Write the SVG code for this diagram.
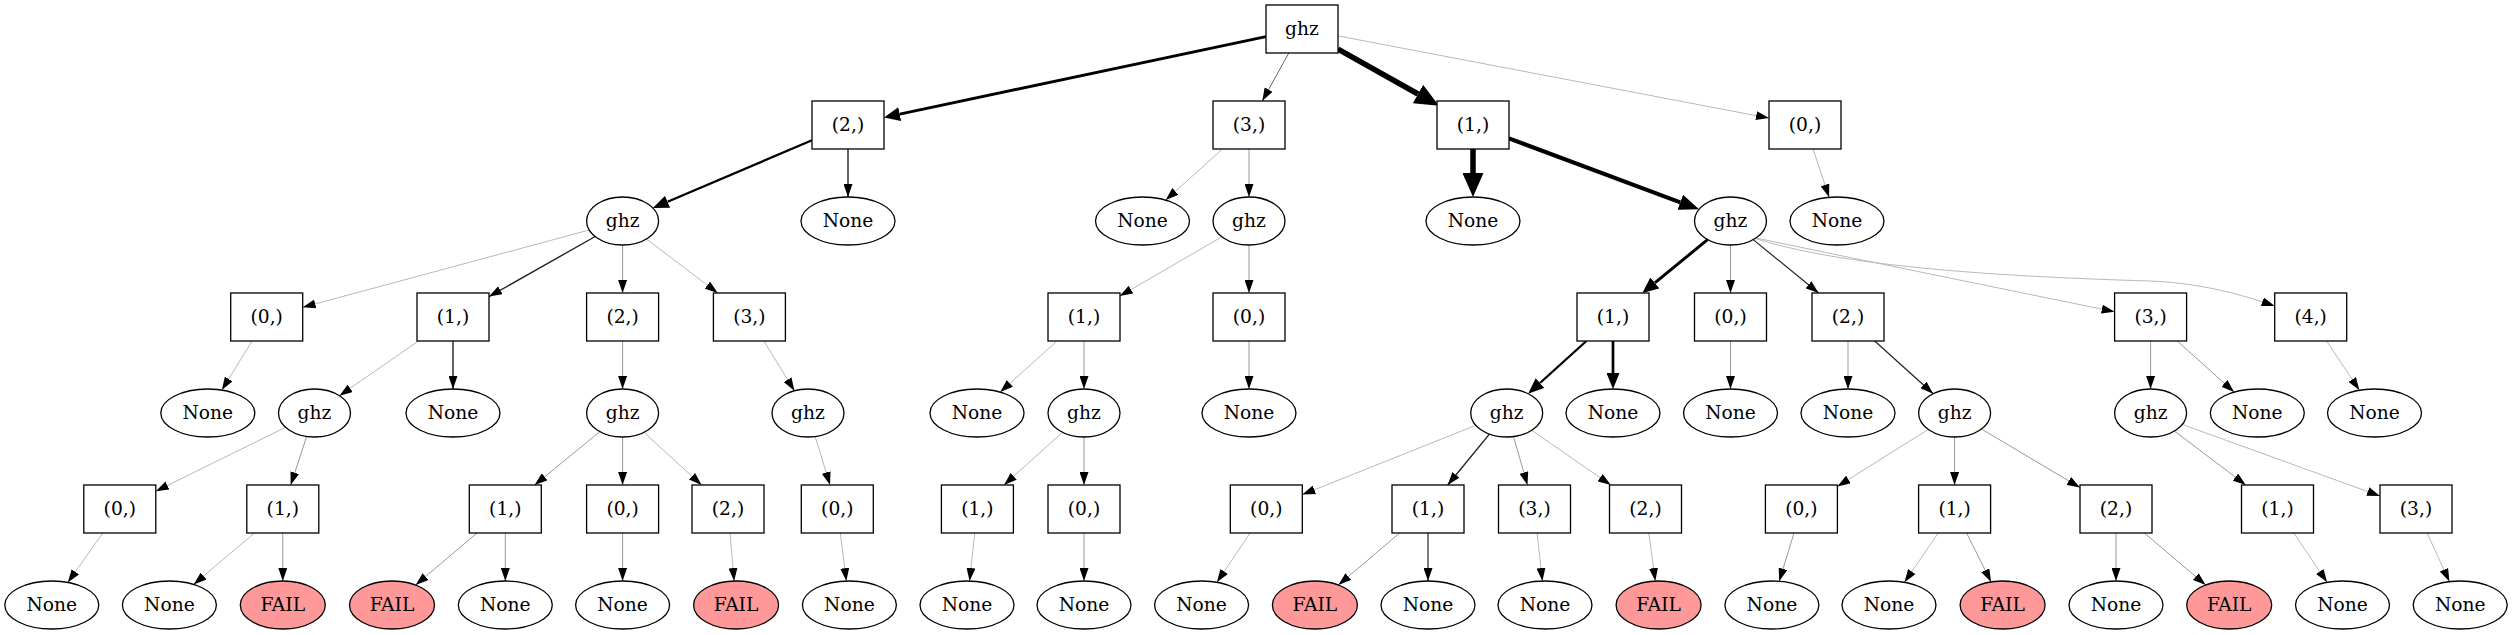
<svg xmlns="http://www.w3.org/2000/svg" width="2512" height="635" viewBox="0 0 2512 635" font-family="'DejaVu Serif', 'Liberation Serif', serif" font-size="18.67">
<style>
.nd rect,.nd ellipse{fill:#fff;stroke:#000;stroke-width:1.3}
.nd ellipse.fail{fill:#ff9999}
text{font-family:'DejaVu Serif','Liberation Serif',serif;font-size:18.67px;text-anchor:middle;fill:#000}
#edges path{fill:none}
.lt{stroke:#b8b8b8;stroke-width:1;marker-end:url(#aT)}
.md{stroke:#999;stroke-width:1;marker-end:url(#aT)}
.dk{stroke:#666;stroke-width:1;marker-end:url(#aT)}
.bk{stroke:#222;stroke-width:1.4;marker-end:url(#aT)}
.w2{stroke:#000;stroke-width:2.3;marker-end:url(#aM)}
.w3{stroke:#000;stroke-width:3;marker-end:url(#aM3)}
.w4{stroke:#000;stroke-width:4;marker-end:url(#aB)}
.w6{stroke:#000;stroke-width:5.5;marker-end:url(#aH)}
</style>
<defs>
<marker id="aT" markerUnits="userSpaceOnUse" viewBox="0 0 13 9" markerWidth="13" markerHeight="9" refX="13" refY="4.5" orient="auto"><path d="M0,0L13,4.5L0,9z" fill="#000"/></marker>
<marker id="aM" markerUnits="userSpaceOnUse" viewBox="0 -6.5 16 13" markerWidth="16" markerHeight="13" refX="0" refY="0" orient="auto"><path d="M0,-6.5L16,0L0,6.5z" fill="#000"/></marker>
<marker id="aM3" markerUnits="userSpaceOnUse" viewBox="0 -7 16 14" markerWidth="16" markerHeight="14" refX="0" refY="0" orient="auto"><path d="M0,-7L16,0L0,7z" fill="#000"/></marker>
<marker id="aB" markerUnits="userSpaceOnUse" viewBox="0 -8 20 16" markerWidth="20" markerHeight="16" refX="0" refY="0" orient="auto"><path d="M0,-8L20,0L0,8z" fill="#000"/></marker>
<marker id="aH" markerUnits="userSpaceOnUse" viewBox="0 -10.5 24 21" markerWidth="24" markerHeight="21" refX="0" refY="0" orient="auto"><path d="M0,-10.5L24,0L0,10.5z" fill="#000"/></marker>
</defs>
<rect width="2512" height="635" fill="#fff"/>
<g id="edges">
<path class="w3" d="M1266,36.6L899.7,114.1"/>
<path class="dk" d="M1288.8,53L1262.3,101"/>
<path class="w6" d="M1338,49.2L1418,94"/>
<path class="lt" d="M1338,35.9L1769,118.1"/>
<path class="w2" d="M812,140.3L667.6,201.8"/>
<path class="bk" d="M848,149L848,197"/>
<path class="lt" d="M1222.4,149L1165.7,200.1"/>
<path class="md" d="M1249,149L1249,197"/>
<path class="w6" d="M1473,149L1473,173"/>
<path class="w4" d="M1509,138.4L1680.3,202.3"/>
<path class="lt" d="M1813,149L1829.1,197.3"/>
<path class="lt" d="M589.2,230L302.7,307.3"/>
<path class="bk" d="M595.2,236.5L489,296.6"/>
<path class="md" d="M622.6,245L622.6,293"/>
<path class="lt" d="M646.4,239L717.7,293"/>
<path class="lt" d="M1221.9,236.8L1119.7,296.1"/>
<path class="md" d="M1249,245L1249,293"/>
<path class="w3" d="M1707.6,239.6L1654.8,282.9"/>
<path class="md" d="M1730.5,245L1730.5,293"/>
<path class="bk" style="stroke-width:1.2" d="M1753.2,239.6L1818.6,293"/>
<path class="lt" d="M1756,238Q1900,268 2114.6,311.7"/>
<path class="lt" d="M1757,239C1840,265 1980,276 2150,281C2200,283 2240,294 2274.7,306"/>
<path class="lt" d="M252,341L221.9,390.1"/>
<path class="lt" d="M418.4,341L339.5,395.7"/>
<path class="bk" d="M453,341L453,389"/>
<path class="md" d="M622.6,341L622.6,389"/>
<path class="lt" d="M764,341L794.4,390.8"/>
<path class="lt" d="M1057,341L1000.2,392.1"/>
<path class="md" d="M1084,341L1084,389"/>
<path class="md" d="M1249,341L1249,389"/>
<path class="w2" d="M1586.4,341L1540,383"/>
<path class="w2" style="stroke-width:2.7" d="M1613,341L1613,373"/>
<path class="md" d="M1730.5,341L1730.5,389"/>
<path class="md" d="M1848,341L1848,389"/>
<path class="bk" style="stroke-width:1.2" d="M1874.7,341L1933.2,393.7"/>
<path class="md" d="M2150.6,341L2150.6,389"/>
<path class="md" d="M2177.3,341L2234.1,392.1"/>
<path class="lt" d="M2326.7,341L2359.4,390.3"/>
<path class="lt" d="M285.6,427.3L155.8,491.2"/>
<path class="md" d="M306.7,436.4L290.7,485"/>
<path class="md" d="M599.9,431.6L534.6,485"/>
<path class="md" d="M622.6,437L622.6,485"/>
<path class="lt" d="M643.9,432.4L701.6,485"/>
<path class="lt" d="M815.2,436.5L830,485"/>
<path class="lt" d="M1062.5,432.3L1004,485"/>
<path class="md" d="M1084,437L1084,485"/>
<path class="lt" d="M1475.8,425.3L1302.3,494.6"/>
<path class="bk" d="M1489.4,434.1L1447.7,485"/>
<path class="md" d="M1513.5,436.6L1527.5,485"/>
<path class="lt" d="M1531.7,430.3L1610.8,485"/>
<path class="lt" d="M1928.4,429.4L1837.4,486.4"/>
<path class="md" d="M1954.6,437L1954.6,485"/>
<path class="md" d="M1981.5,429L2080,487.6"/>
<path class="md" d="M2174.4,431L2245.8,485"/>
<path class="lt" d="M2182.2,424.4L2380,496"/>
<path class="lt" d="M102.8,533L67.8,582.4"/>
<path class="lt" d="M254.4,533L193.7,584.4"/>
<path class="md" d="M282.8,533L282.8,581"/>
<path class="md" d="M477,533L415.6,585"/>
<path class="md" d="M505.3,533L505.3,581"/>
<path class="md" d="M622.6,533L622.6,581"/>
<path class="lt" d="M730,533L734.1,581"/>
<path class="lt" d="M840.3,533L846.4,581.1"/>
<path class="lt" d="M974.8,533L969.6,581"/>
<path class="md" d="M1084,533L1084,581"/>
<path class="lt" d="M1250.1,533L1216.9,582.3"/>
<path class="md" d="M1399.7,533L1338.4,585"/>
<path class="bk" style="stroke-width:1.2" d="M1428,533L1428,581"/>
<path class="lt" d="M1537.1,533L1542.4,581"/>
<path class="lt" d="M1648.8,533L1655.3,581"/>
<path class="md" d="M1794,533L1779.2,581.3"/>
<path class="lt" d="M1938.2,533L1904.5,582.3"/>
<path class="md" d="M1966.6,533L1991.1,581.9"/>
<path class="md" d="M2116,533L2116,581"/>
<path class="md" d="M2144.3,533L2205.7,585"/>
<path class="lt" d="M2293.8,533L2327.1,582.3"/>
<path class="lt" d="M2427.1,533L2449.4,581.6"/>
</g>
<g id="n0" class="nd"><rect x="1266" y="5" width="72" height="48"/><text x="1302" y="34.6">ghz</text></g>
<g id="n1" class="nd"><rect x="812" y="101" width="72" height="48"/><text x="848" y="130.6">(2,)</text></g>
<g id="n2" class="nd"><rect x="1213" y="101" width="72" height="48"/><text x="1249" y="130.6">(3,)</text></g>
<g id="n3" class="nd"><rect x="1437" y="101" width="72" height="48"/><text x="1473" y="130.6">(1,)</text></g>
<g id="n4" class="nd"><rect x="1769" y="101" width="72" height="48"/><text x="1805" y="130.6">(0,)</text></g>
<g id="n5" class="nd"><ellipse cx="622.6" cy="221" rx="36" ry="24"/><text x="622.6" y="226.6">ghz</text></g>
<g id="n6" class="nd"><ellipse cx="848" cy="221" rx="47" ry="24"/><text x="848" y="226.6">None</text></g>
<g id="n7" class="nd"><ellipse cx="1142.5" cy="221" rx="47" ry="24"/><text x="1142.5" y="226.6">None</text></g>
<g id="n8" class="nd"><ellipse cx="1249" cy="221" rx="36" ry="24"/><text x="1249" y="226.6">ghz</text></g>
<g id="n9" class="nd"><ellipse cx="1473" cy="221" rx="47" ry="24"/><text x="1473" y="226.6">None</text></g>
<g id="n10" class="nd"><ellipse cx="1730.5" cy="221" rx="36" ry="24"/><text x="1730.5" y="226.6">ghz</text></g>
<g id="n11" class="nd"><ellipse cx="1837" cy="221" rx="47" ry="24"/><text x="1837" y="226.6">None</text></g>
<g id="n12" class="nd"><rect x="230.7" y="293" width="72" height="48"/><text x="266.7" y="322.6">(0,)</text></g>
<g id="n13" class="nd"><rect x="417" y="293" width="72" height="48"/><text x="453" y="322.6">(1,)</text></g>
<g id="n14" class="nd"><rect x="586.6" y="293" width="72" height="48"/><text x="622.6" y="322.6">(2,)</text></g>
<g id="n15" class="nd"><rect x="713.4" y="293" width="72" height="48"/><text x="749.4" y="322.6">(3,)</text></g>
<g id="n16" class="nd"><rect x="1048" y="293" width="72" height="48"/><text x="1084" y="322.6">(1,)</text></g>
<g id="n17" class="nd"><rect x="1213" y="293" width="72" height="48"/><text x="1249" y="322.6">(0,)</text></g>
<g id="n18" class="nd"><rect x="1577" y="293" width="72" height="48"/><text x="1613" y="322.6">(1,)</text></g>
<g id="n19" class="nd"><rect x="1694.5" y="293" width="72" height="48"/><text x="1730.5" y="322.6">(0,)</text></g>
<g id="n20" class="nd"><rect x="1812" y="293" width="72" height="48"/><text x="1848" y="322.6">(2,)</text></g>
<g id="n21" class="nd"><rect x="2114.6" y="293" width="72" height="48"/><text x="2150.6" y="322.6">(3,)</text></g>
<g id="n22" class="nd"><rect x="2274.7" y="293" width="72" height="48"/><text x="2310.7" y="322.6">(4,)</text></g>
<g id="n23" class="nd"><ellipse cx="207.8" cy="413" rx="47" ry="24"/><text x="207.8" y="418.6">None</text></g>
<g id="n24" class="nd"><ellipse cx="314.5" cy="413" rx="36" ry="24"/><text x="314.5" y="418.6">ghz</text></g>
<g id="n25" class="nd"><ellipse cx="453" cy="413" rx="47" ry="24"/><text x="453" y="418.6">None</text></g>
<g id="n26" class="nd"><ellipse cx="622.6" cy="413" rx="36" ry="24"/><text x="622.6" y="418.6">ghz</text></g>
<g id="n27" class="nd"><ellipse cx="808" cy="413" rx="36" ry="24"/><text x="808" y="418.6">ghz</text></g>
<g id="n28" class="nd"><ellipse cx="977" cy="413" rx="47" ry="24"/><text x="977" y="418.6">None</text></g>
<g id="n29" class="nd"><ellipse cx="1084" cy="413" rx="36" ry="24"/><text x="1084" y="418.6">ghz</text></g>
<g id="n30" class="nd"><ellipse cx="1249" cy="413" rx="47" ry="24"/><text x="1249" y="418.6">None</text></g>
<g id="n31" class="nd"><ellipse cx="1506.7" cy="413" rx="36" ry="24"/><text x="1506.7" y="418.6">ghz</text></g>
<g id="n32" class="nd"><ellipse cx="1613" cy="413" rx="47" ry="24"/><text x="1613" y="418.6">None</text></g>
<g id="n33" class="nd"><ellipse cx="1730.5" cy="413" rx="47" ry="24"/><text x="1730.5" y="418.6">None</text></g>
<g id="n34" class="nd"><ellipse cx="1848" cy="413" rx="47" ry="24"/><text x="1848" y="418.6">None</text></g>
<g id="n35" class="nd"><ellipse cx="1954.6" cy="413" rx="36" ry="24"/><text x="1954.6" y="418.6">ghz</text></g>
<g id="n36" class="nd"><ellipse cx="2150.6" cy="413" rx="36" ry="24"/><text x="2150.6" y="418.6">ghz</text></g>
<g id="n37" class="nd"><ellipse cx="2257.3" cy="413" rx="47" ry="24"/><text x="2257.3" y="418.6">None</text></g>
<g id="n38" class="nd"><ellipse cx="2374.5" cy="413" rx="47" ry="24"/><text x="2374.5" y="418.6">None</text></g>
<g id="n39" class="nd"><rect x="83.8" y="485" width="72" height="48"/><text x="119.8" y="514.6">(0,)</text></g>
<g id="n40" class="nd"><rect x="246.8" y="485" width="72" height="48"/><text x="282.8" y="514.6">(1,)</text></g>
<g id="n41" class="nd"><rect x="469.3" y="485" width="72" height="48"/><text x="505.3" y="514.6">(1,)</text></g>
<g id="n42" class="nd"><rect x="586.6" y="485" width="72" height="48"/><text x="622.6" y="514.6">(0,)</text></g>
<g id="n43" class="nd"><rect x="692" y="485" width="72" height="48"/><text x="728" y="514.6">(2,)</text></g>
<g id="n44" class="nd"><rect x="801.3" y="485" width="72" height="48"/><text x="837.3" y="514.6">(0,)</text></g>
<g id="n45" class="nd"><rect x="941.4" y="485" width="72" height="48"/><text x="977.4" y="514.6">(1,)</text></g>
<g id="n46" class="nd"><rect x="1048" y="485" width="72" height="48"/><text x="1084" y="514.6">(0,)</text></g>
<g id="n47" class="nd"><rect x="1230.3" y="485" width="72" height="48"/><text x="1266.3" y="514.6">(0,)</text></g>
<g id="n48" class="nd"><rect x="1392" y="485" width="72" height="48"/><text x="1428" y="514.6">(1,)</text></g>
<g id="n49" class="nd"><rect x="1498.5" y="485" width="72" height="48"/><text x="1534.5" y="514.6">(3,)</text></g>
<g id="n50" class="nd"><rect x="1609.5" y="485" width="72" height="48"/><text x="1645.5" y="514.6">(2,)</text></g>
<g id="n51" class="nd"><rect x="1765.4" y="485" width="72" height="48"/><text x="1801.4" y="514.6">(0,)</text></g>
<g id="n52" class="nd"><rect x="1918.6" y="485" width="72" height="48"/><text x="1954.6" y="514.6">(1,)</text></g>
<g id="n53" class="nd"><rect x="2080" y="485" width="72" height="48"/><text x="2116" y="514.6">(2,)</text></g>
<g id="n54" class="nd"><rect x="2241.5" y="485" width="72" height="48"/><text x="2277.5" y="514.6">(1,)</text></g>
<g id="n55" class="nd"><rect x="2380" y="485" width="72" height="48"/><text x="2416" y="514.6">(3,)</text></g>
<g id="n56" class="nd"><ellipse cx="51.8" cy="605" rx="47" ry="24"/><text x="51.8" y="610.6">None</text></g>
<g id="n57" class="nd"><ellipse cx="169.4" cy="605" rx="47" ry="24"/><text x="169.4" y="610.6">None</text></g>
<g id="n58" class="nd"><ellipse class="fail" cx="282.8" cy="605" rx="42.5" ry="24"/><text x="282.8" y="610.6">FAIL</text></g>
<g id="n59" class="nd"><ellipse class="fail" cx="392" cy="605" rx="42.5" ry="24"/><text x="392" y="610.6">FAIL</text></g>
<g id="n60" class="nd"><ellipse cx="505.3" cy="605" rx="47" ry="24"/><text x="505.3" y="610.6">None</text></g>
<g id="n61" class="nd"><ellipse cx="622.6" cy="605" rx="47" ry="24"/><text x="622.6" y="610.6">None</text></g>
<g id="n62" class="nd"><ellipse class="fail" cx="736.1" cy="605" rx="42.5" ry="24"/><text x="736.1" y="610.6">FAIL</text></g>
<g id="n63" class="nd"><ellipse cx="849.4" cy="605" rx="47" ry="24"/><text x="849.4" y="610.6">None</text></g>
<g id="n64" class="nd"><ellipse cx="967" cy="605" rx="47" ry="24"/><text x="967" y="610.6">None</text></g>
<g id="n65" class="nd"><ellipse cx="1084" cy="605" rx="47" ry="24"/><text x="1084" y="610.6">None</text></g>
<g id="n66" class="nd"><ellipse cx="1201.6" cy="605" rx="47" ry="24"/><text x="1201.6" y="610.6">None</text></g>
<g id="n67" class="nd"><ellipse class="fail" cx="1314.9" cy="605" rx="42.5" ry="24"/><text x="1314.9" y="610.6">FAIL</text></g>
<g id="n68" class="nd"><ellipse cx="1428" cy="605" rx="47" ry="24"/><text x="1428" y="610.6">None</text></g>
<g id="n69" class="nd"><ellipse cx="1545" cy="605" rx="47" ry="24"/><text x="1545" y="610.6">None</text></g>
<g id="n70" class="nd"><ellipse class="fail" cx="1658.6" cy="605" rx="42.5" ry="24"/><text x="1658.6" y="610.6">FAIL</text></g>
<g id="n71" class="nd"><ellipse cx="1771.9" cy="605" rx="47" ry="24"/><text x="1771.9" y="610.6">None</text></g>
<g id="n72" class="nd"><ellipse cx="1889" cy="605" rx="47" ry="24"/><text x="1889" y="610.6">None</text></g>
<g id="n73" class="nd"><ellipse class="fail" cx="2002.6" cy="605" rx="42.5" ry="24"/><text x="2002.6" y="610.6">FAIL</text></g>
<g id="n74" class="nd"><ellipse cx="2116" cy="605" rx="47" ry="24"/><text x="2116" y="610.6">None</text></g>
<g id="n75" class="nd"><ellipse class="fail" cx="2229.2" cy="605" rx="42.5" ry="24"/><text x="2229.2" y="610.6">FAIL</text></g>
<g id="n76" class="nd"><ellipse cx="2342.5" cy="605" rx="47" ry="24"/><text x="2342.5" y="610.6">None</text></g>
<g id="n77" class="nd"><ellipse cx="2460.2" cy="605" rx="47" ry="24"/><text x="2460.2" y="610.6">None</text></g>
</svg>
